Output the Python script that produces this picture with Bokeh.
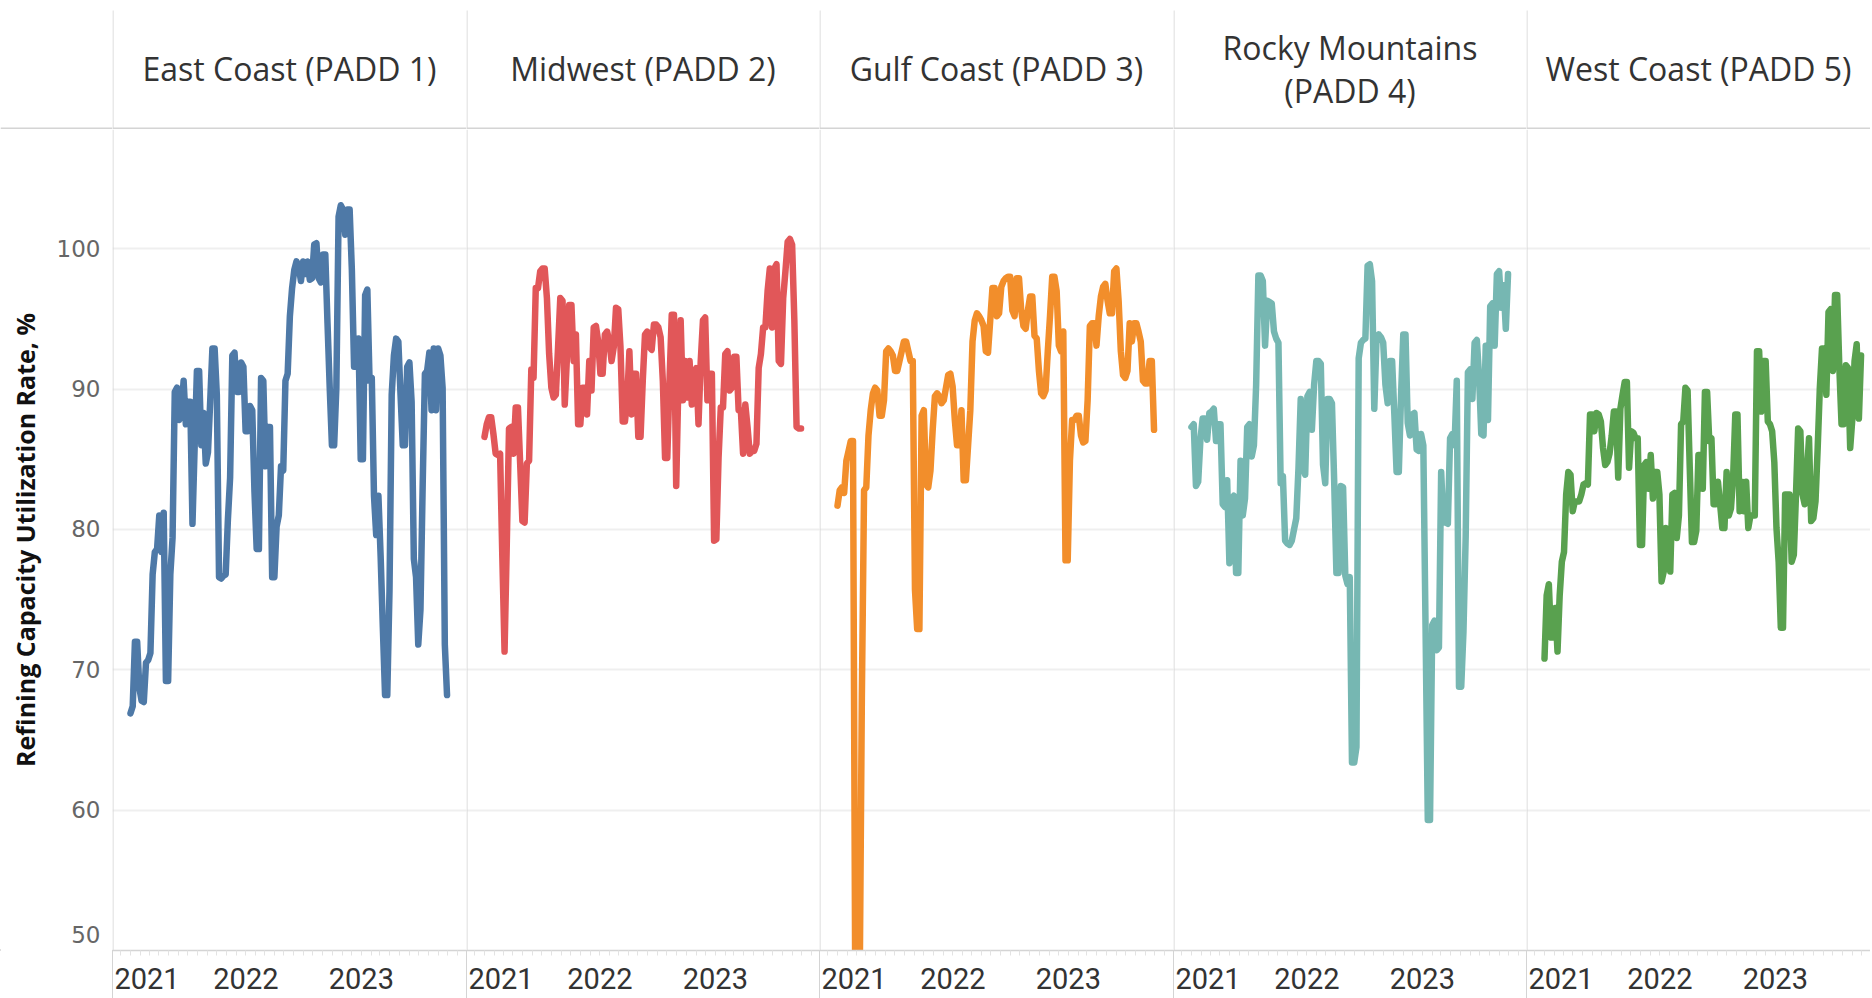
import pandas as pd
from bokeh.plotting import figure
from bokeh.layouts import row, column
from bokeh.models import (FixedTicker, DatetimeTickFormatter, Range1d, Grid, Span,
                          InlineStyleSheet)
from bokeh.core.properties import value
from bokeh.embed import file_html
from bokeh.resources import INLINE

# ---------------- data (weekly refinery capacity utilization, %) ----------------
regions = ["East Coast (PADD 1)", "Midwest (PADD 2)", "Gulf Coast (PADD 3)",
           "Rocky Mountains\n(PADD 4)", "West Coast (PADD 5)"]
first_week = "2021-01-01"
last_week = "2023-09-29"
year_ticks = ["2021-01-01", "2022-01-01", "2023-01-01"]
y_ticks = [50, 60, 70, 80, 90, 100]

east = [66.9, 67.4, 72.0, 72.0, 68.7, 67.8, 67.7, 70.5, 70.7, 71.2, 76.8, 78.4, 78.6, 81.0,
        78.4, 81.2, 69.2, 69.2, 76.8, 79.4, 89.8, 90.1, 87.8, 88.5, 90.6, 87.5,
        89.1, 89.1, 80.4, 86.0, 91.3, 91.3, 86.0, 88.3, 84.7, 85.5, 89.1, 92.9, 92.9,
        89.6, 76.6, 76.5, 76.7, 76.8, 80.7, 83.7, 92.4, 92.6, 89.8, 89.8, 91.9, 91.6, 87.0,
        87.0, 88.8, 88.5, 82.7, 78.6, 78.6, 90.8, 90.6, 84.5, 87.3, 87.3, 76.6, 76.6, 80.2,
        81.0, 84.5, 84.2, 90.6, 91.1, 95.2, 97.2, 98.5, 99.1, 98.7, 97.7, 99.1, 98.2, 99.1,
        97.8, 97.9, 100.3, 100.4, 97.9, 97.6, 99.6, 99.6, 94.7, 90.1, 86.0, 86.0, 90.1, 102.3,
        103.1, 102.8, 101.0, 102.8, 102.8, 98.5, 91.6, 91.6, 93.6, 85.0, 85.0, 96.7, 97.1,
        90.6, 90.8, 82.4, 79.6, 82.4, 78.1, 73.0, 68.2, 68.2, 75.6, 89.6, 92.4, 93.6, 93.4,
        89.6, 86.0, 86.0, 91.6, 91.9, 89.1, 77.9, 76.6, 71.8, 74.3, 83.2, 91.1, 91.3, 92.6,
        88.5, 92.9, 88.5, 92.9, 92.4, 90.1, 71.8, 68.2]

midwest = [86.6, 87.5, 88.0, 88.0, 86.8, 85.4, 85.3, 85.4, 78.0, 71.3, 79.0, 87.2, 87.3,
           85.4, 88.7, 88.7, 84.7, 80.6, 80.5, 84.7, 84.9, 91.4, 90.8, 97.2, 97.2, 98.4, 98.6,
           98.6, 96.5, 92.5, 90.1, 89.4, 89.6, 93.0, 96.5, 96.3, 88.9, 92.3, 96.0, 96.0, 92.0,
           93.9, 87.5, 87.5, 90.1, 90.1, 88.2, 92.0, 89.9, 94.4, 94.5, 93.4, 91.1, 91.1, 93.9,
           94.1, 93.4, 92.0, 93.0, 95.8, 95.7, 93.0, 87.7, 87.7, 89.2, 92.7, 88.2, 91.1, 91.1,
           86.6, 86.6, 90.6, 93.9, 94.1, 93.0, 92.8, 94.6, 94.6, 94.4, 93.7, 90.6, 85.1, 85.1,
           90.6, 95.3, 95.3, 83.1, 90.6, 94.9, 89.2, 92.0, 89.4, 92.0, 88.9, 90.6, 91.5, 87.5,
           92.0, 94.9, 95.1, 89.2, 91.1, 91.1, 79.2, 79.3, 85.1, 88.7, 88.7, 92.5, 92.7, 89.9,
           90.1, 92.3, 92.3, 88.5, 88.5, 85.4, 88.9, 87.3, 85.4, 85.6, 85.6, 86.1, 91.5, 92.5,
           94.4, 94.4, 97.0, 98.6, 94.4, 98.6, 98.9, 92.0, 91.8, 96.5, 98.4, 100.5, 100.7,
           100.3, 94.9, 87.3, 87.2, 87.2]

gulf = [81.7, 82.8, 83.0, 82.6, 84.9, 85.6, 86.3, 86.3, 48.0, 44.0, 47.0, 68.0, 82.8, 83.0,
        86.7, 88.5, 89.7, 90.1, 89.9, 88.1, 88.1, 89.2, 92.7, 92.9, 92.7, 92.4, 91.3, 91.3,
        92.0, 92.7, 93.4, 93.4, 92.7, 92.0, 92.0, 75.7, 72.9, 72.9, 88.1, 88.5, 83.2, 83.0,
        84.2, 87.1, 89.5, 89.7, 89.5, 89.0, 89.2, 90.1, 91.0, 91.1, 90.2, 87.8, 86.0, 86.0,
        88.5, 83.5, 83.5, 86.0, 88.5, 93.4, 94.9, 95.4, 95.2, 94.9, 94.5, 92.7, 92.6, 94.9,
        97.2, 97.2, 95.2, 95.4, 97.3, 97.7, 97.9, 98.0, 98.0, 95.6, 95.2, 97.9, 97.9, 95.6,
        94.5, 94.3, 95.6, 96.6, 96.6, 93.8, 93.6, 91.3, 89.7, 89.5, 89.9, 92.7, 95.2, 98.0,
        98.0, 97.0, 93.1, 92.7, 94.1, 77.8, 77.8, 84.9, 87.8, 87.8, 88.1, 88.1, 86.7, 86.2,
        86.3, 89.2, 94.5, 94.7, 94.7, 93.1, 95.2, 96.6, 97.3, 97.5, 96.3, 95.4, 95.4, 98.4,
        98.6, 96.3, 92.7, 91.0, 90.8, 91.3, 94.7, 93.4, 94.7, 94.7, 94.1, 93.4, 90.6, 90.4,
        90.4, 92.0, 92.0, 87.1]

rocky = [87.3, 87.5, 83.1, 83.4, 86.4, 87.9, 87.9, 86.4, 88.3, 88.4, 88.6, 86.3, 87.5,
         87.5, 81.8, 81.6, 83.5, 77.6, 82.2, 82.4, 76.9, 76.9, 84.9, 81.0, 82.2,
         87.3, 87.5, 85.2, 86.0, 90.3, 98.1, 98.1, 97.7, 93.1, 96.3, 96.2, 96.1,
         94.1, 93.6, 93.3, 83.3, 83.8, 79.2, 79.0, 78.9, 79.2, 80.0, 80.8, 84.4, 89.3,
         84.4, 83.9, 89.5, 89.8, 87.1, 90.3, 92.0, 92.0, 91.8, 84.6, 83.3, 89.3, 89.3,
         89.0, 83.5, 76.9, 76.9, 83.1, 83.0, 76.7, 76.1, 76.6, 63.4, 63.4, 64.5, 92.2, 93.3,
         93.5, 93.6, 98.8, 98.9, 97.7, 88.6, 93.6, 93.9, 93.7, 93.3, 90.3, 89.0, 92.0,
         92.0, 88.2, 84.1, 84.1, 89.5, 93.9, 93.9, 87.6, 86.7, 88.2, 88.3, 85.7, 85.6, 86.8,
         86.0, 73.0, 59.3, 59.3, 73.2, 73.5, 71.4, 71.6, 84.1, 80.5, 80.5, 80.4, 86.5, 86.8,
         86.0, 90.6, 68.8, 68.8, 72.7, 79.5, 91.2, 91.4, 89.3, 93.3, 93.5, 90.9, 86.8, 86.7,
         93.1, 87.8, 95.9, 96.1, 93.1, 98.2, 98.4, 95.8, 97.4, 94.3, 98.2]

west = [70.8, 75.3, 76.1, 72.3, 72.3, 74.4, 71.3, 75.3, 77.7, 78.4, 82.5, 84.1, 83.9, 81.3,
        82.0, 82.0, 82.0, 82.5, 83.2, 83.3, 83.2, 88.2, 88.2, 87.0, 88.3, 88.2, 87.7, 85.8,
        84.6, 84.8, 85.4, 86.7, 88.4, 88.4, 83.7, 88.6, 89.6, 90.5, 90.5, 84.4, 87.0, 86.9,
        86.5, 86.5, 78.9, 78.9, 84.6, 84.8, 82.9, 85.3, 82.2, 84.1, 84.1, 82.5, 76.3, 77.0,
        80.1, 79.4, 77.0, 82.5, 82.6, 79.4, 81.0, 87.5, 87.7, 90.1, 89.9, 84.4, 79.1, 79.1,
        79.9, 85.3, 85.3, 82.9, 89.8, 89.8, 86.3, 86.5, 81.8, 81.8, 83.4, 81.8, 80.1, 80.1,
        84.1, 81.0, 81.5, 83.7, 88.2, 88.2, 81.3, 83.4, 81.3, 83.4, 80.1, 81.0, 81.0, 81.0,
        92.7, 92.7, 88.4, 92.0, 92.0, 87.7, 87.5, 87.0, 84.8, 80.1, 77.7, 73.0, 73.0, 82.5,
        82.5, 82.5, 77.7, 78.2, 82.5, 87.2, 87.0, 82.5, 81.8, 83.9, 86.5, 80.6, 80.8, 82.0,
        85.8, 90.1, 92.9, 92.9, 89.6, 95.5, 95.7, 91.3, 96.7, 96.7, 91.5, 87.5, 87.5, 91.7,
        91.5, 85.8, 87.9, 92.0, 93.2, 87.9, 92.4]

series = [east, midwest, gulf, rocky, west]
colors = ["#4e79a7", "#e15759", "#f28e2b", "#76b7b2", "#59a14f"]

# ---------------- layout / style ----------------
LEFT = 112                        # y-axis column width
PANEL_W = [354, 353, 354, 353, 344]
HEADER_H = 129
FRAME_H = 821
BOTTOM = 48
PX_PER_YEAR = 115.5
PAD_PX = 18                       # gap between panel edge and Jan 2021
Y0, Y1 = 50, 108.5
DAY_MS = 86400000.0
YEAR_DAYS = 365.25

GRID = "#efefef"
RULE = "#d4d4d4"
FONT = "Open Sans"
TEXT = "#333333"


def ms(d):
    return pd.Timestamp(d).value / 1e6


def px_to_ms(px):
    return px / PX_PER_YEAR * YEAR_DAYS * DAY_MS


t0 = ms(first_week)
x_start = t0 - px_to_ms(PAD_PX)
major = [ms(year_ticks[0]) + px_to_ms(16.5)] + [ms(t) for t in year_ticks[1:]]
minor = [ms(t) for t in pd.date_range("2020-12-01", "2023-11-01", freq="MS")]


def blank(width, height):
    f = figure(width=width, height=height, x_range=Range1d(0, width),
               y_range=Range1d(0, height), x_axis_location=None, y_axis_location=None,
               min_border=0, min_border_left=0, min_border_right=0,
               min_border_top=0, min_border_bottom=0, title=None,
               output_backend="svg", toolbar_location=None)
    f.grid.visible = False
    f.outline_line_color = None
    f.background_fill_color = "white"
    f.border_fill_color = "white"
    return f


# ---------- header row ----------
headers = []
h0 = blank(LEFT, HEADER_H)
h0.quad(left=[0], right=[LEFT], bottom=[0], top=[2], fill_color=RULE, line_color=None)
headers.append(h0)
for name, fw in zip(regions, PANEL_W):
    h = blank(fw, HEADER_H)
    h.quad(left=[0], right=[fw], bottom=[0], top=[2], fill_color=RULE, line_color=None)
    h.quad(left=[0], right=[1], bottom=[0], top=[HEADER_H - 10], fill_color=RULE,
           line_color=None)
    h.text(x=[fw / 2], y=[HEADER_H - 68.0], text=[name], text_align="center",
           text_baseline="middle", text_font=value(FONT), text_font_size="32px",
           text_color=TEXT, text_line_height=1.0)
    headers.append(h)

# ---------- panel row ----------
panels = []
for i, (vals, col, fw) in enumerate(zip(series, colors, PANEL_W)):
    lb = LEFT if i == 0 else 0
    x_end = x_start + px_to_ms(fw)
    p = figure(width=fw + lb, height=FRAME_H + BOTTOM, x_axis_type="datetime",
               x_range=Range1d(x_start, x_end), y_range=Range1d(Y0, Y1),
               y_axis_location="left" if i == 0 else None, title=None,
               min_border_left=lb, min_border_right=0, min_border_top=0,
               min_border_bottom=BOTTOM, output_backend="svg", toolbar_location=None)
    p.outline_line_color = None
    p.background_fill_color = "white"
    p.border_fill_color = "white"

    xa = p.xaxis[0]
    xa.ticker = FixedTicker(ticks=major, minor_ticks=minor)
    xa.formatter = DatetimeTickFormatter(years="%Y", months="%Y", days="%Y",
                                         hours="%Y", minutes="%Y", seconds="%Y")
    xa.axis_line_color = RULE
    xa.axis_line_width = 1.5
    xa.major_tick_out = 0
    xa.major_tick_in = 0
    xa.minor_tick_out = 5
    xa.minor_tick_in = 0
    xa.minor_tick_line_color = "#e3e3e3"
    xa.major_label_text_font = "Roboto"
    xa.major_label_text_font_size = "29px"
    xa.major_label_text_color = TEXT
    xa.major_label_standoff = 12
    p.xgrid.visible = False

    if i == 0:
        ya = p.yaxis[0]
        ya.ticker = FixedTicker(ticks=y_ticks)
        ya.major_label_overrides = {50: "50\n"}
        ya.axis_line_color = None
        ya.major_tick_line_color = None
        ya.minor_tick_line_color = None
        ya.major_tick_out = 0
        ya.major_tick_in = 0
        ya.minor_tick_out = 0
        ya.major_label_text_font = "DejaVu Sans"
        ya.major_label_text_font_size = "23px"
        ya.major_label_text_color = "#666666"
        ya.major_label_standoff = 12
        ya.axis_label = "Refining Capacity Utilization Rate, %"
        ya.axis_label_text_font = FONT
        ya.axis_label_text_font_size = "25px"
        ya.axis_label_text_font_style = "bold"
        ya.axis_label_text_color = "#111111"
        ya.axis_label_standoff = 12
        p.ygrid.ticker = FixedTicker(ticks=y_ticks[1:])
        p.ygrid.grid_line_color = GRID
        p.ygrid.grid_line_width = 2
    else:
        p.add_layout(Grid(dimension=1, ticker=FixedTicker(ticks=y_ticks[1:]),
                          grid_line_color=GRID, grid_line_width=2))

    dates = pd.date_range(first_week, last_week, periods=len(vals))
    p.line(dates, vals, line_color=col, line_width=6.5, line_cap="round",
           line_join="round")

    # panel divider inside the plotting area
    p.add_layout(Span(location=x_start + px_to_ms(0.5), dimension="height",
                      line_color=RULE, line_width=1))

    # divider continued through the axis area (and the left rule under the y labels)
    css = (":host::after { content: ''; position: absolute; left: %dpx; top: %dpx; "
           "bottom: 0; width: 1px; background: %s; pointer-events: none; }"
           % (lb, FRAME_H, RULE))
    if i == 0:
        css += (" :host::before { content: ''; position: absolute; left: 0; top: %dpx; "
                "width: %dpx; height: 1.5px; background: %s; pointer-events: none; }"
                % (FRAME_H - 1, LEFT, RULE))
    p.stylesheets = [InlineStyleSheet(css=css)]
    panels.append(p)

layout = column(row(*headers, spacing=0), row(*panels, spacing=0), spacing=0)
open("out.html", "w").write(file_html(layout, INLINE))
